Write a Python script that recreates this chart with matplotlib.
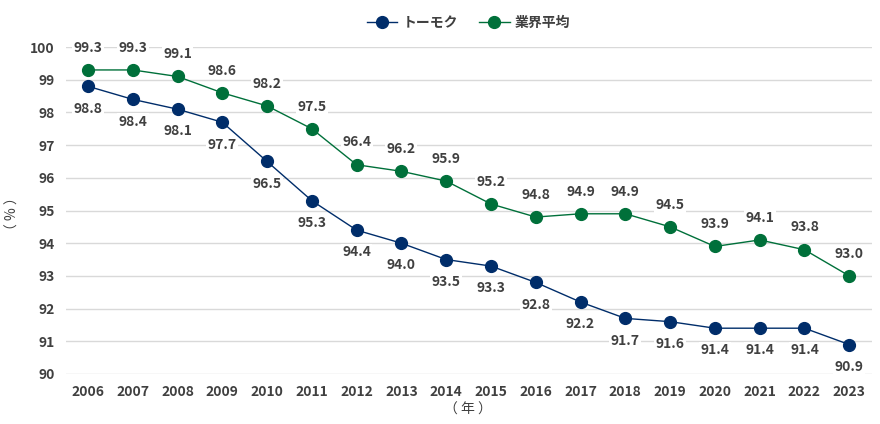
import matplotlib
matplotlib.use('Agg')
import matplotlib.pyplot as plt

plt.rcParams['font.family'] = ['Noto Sans CJK JP', 'DejaVu Sans']

years = [str(y) for y in range(2006, 2024)]
tomoku = [98.8, 98.4, 98.1, 97.7, 96.5, 95.3, 94.4, 94.0, 93.5, 93.3, 92.8, 92.2, 91.7, 91.6, 91.4, 91.4, 91.4, 90.9]
gyokai = [99.3, 99.3, 99.1, 98.6, 98.2, 97.5, 96.4, 96.2, 95.9, 95.2, 94.8, 94.9, 94.9, 94.5, 93.9, 94.1, 93.8, 93.0]

navy = '#002d6a'
green = '#00703a'
txt = '#404040'

fig = plt.figure(figsize=(8.8, 4.24), dpi=100)
ax = fig.add_axes([0.0745, 0.118, 0.916, 0.771])
x = list(range(len(years)))

ax.plot(x, tomoku, color=navy, lw=1, marker='o', ms=8.5, label='トーモク', zorder=3)
ax.plot(x, gyokai, color=green, lw=1, marker='o', ms=8.5, label='業界平均', zorder=3)

bbox = dict(facecolor='white', edgecolor='none', pad=1)
for i in x:
    ax.annotate('%.1f' % tomoku[i], (i, tomoku[i]), xytext=(0, -11), textcoords='offset points',
                ha='center', va='top', fontsize=10, color=txt, fontweight='bold', bbox=bbox, zorder=2)
    ax.annotate('%.1f' % gyokai[i], (i, gyokai[i]), xytext=(0, 11), textcoords='offset points',
                ha='center', va='bottom', fontsize=10, color=txt, fontweight='bold', bbox=bbox, zorder=2)

ax.set_xlim(-0.5, len(years) - 0.5)
ax.set_ylim(90, 100)
ax.set_yticks(range(90, 101))
ax.set_xticks(x)
ax.set_xticklabels(years)
ax.grid(axis='y', color='#d9d9d9', lw=1, zorder=0)
ax.set_axisbelow(True)
for s in ax.spines.values():
    s.set_visible(False)
ax.tick_params(length=0, labelsize=10, labelcolor=txt, pad=8)
for lab in ax.get_xticklabels() + ax.get_yticklabels():
    lab.set_fontweight('bold')

fig.text(0.014, 0.495, '（ % ）', rotation=90, ha='center', va='center', fontsize=10, color=txt)
fig.text(0.532, 0.033, '（ 年 ）', ha='center', va='center', fontsize=10, color=txt)

leg = ax.legend(loc='lower center', bbox_to_anchor=(0.5, 1.015), ncol=2, frameon=False,
                fontsize=10, handlelength=2.2, columnspacing=1.5, handletextpad=0.4)
for t in leg.get_texts():
    t.set_color(txt)
    t.set_fontweight('bold')

fig.savefig('out.png', dpi=100)
